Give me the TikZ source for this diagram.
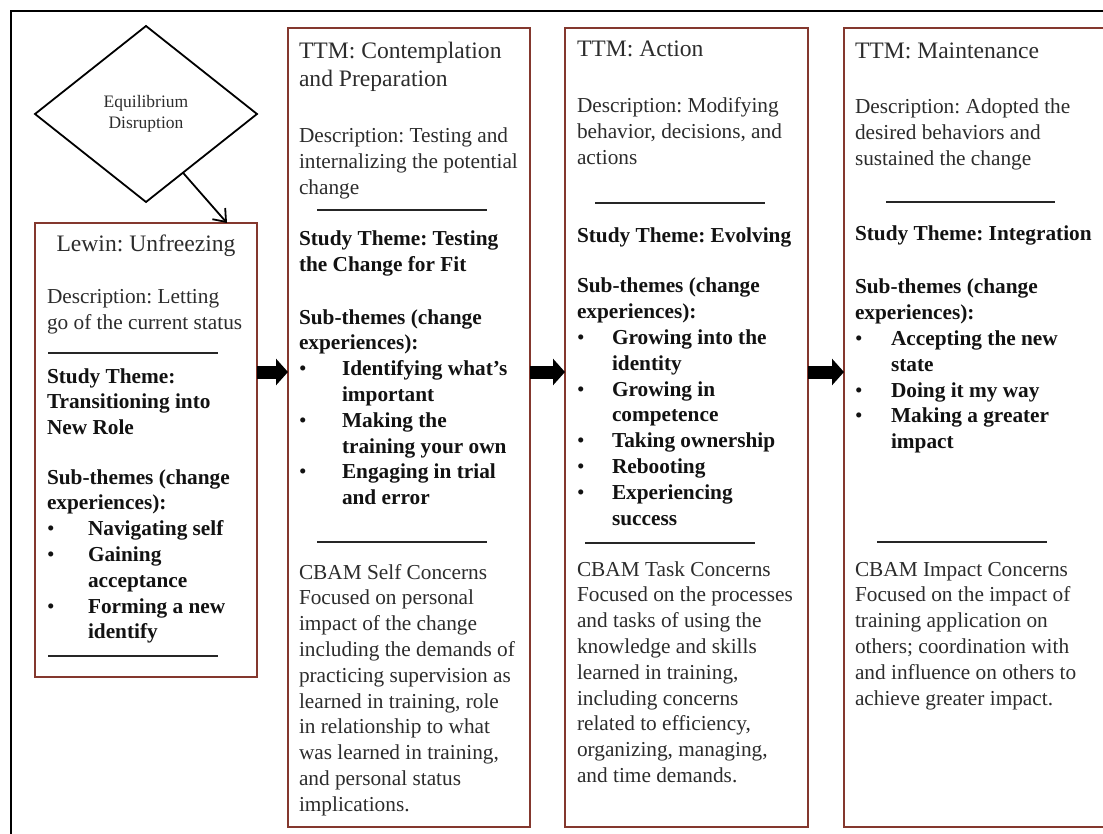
\documentclass[tikz,border=0pt]{standalone}
\usepackage{fontspec}
\setmainfont{Liberation Serif}
\usetikzlibrary{shapes.geometric,arrows.meta,calc}
\frenchspacing

\definecolor{frameline}{RGB}{132,56,46}
\definecolor{bodyink}{RGB}{44,44,44}
\definecolor{boldink}{RGB}{18,18,18}

\newlength{\bulletindent}
\newcommand{\bodysize}{\fontsize{21.3pt}{25.8pt}\selectfont}
\newcommand{\titlesize}{\fontsize{23.6pt}{28pt}\selectfont}
\newcommand{\bitem}{\makebox[\bulletindent][l]{\mdseries •}}
\newcommand{\bcont}{\hspace*{\bulletindent}}
\newcommand{\textblock}[1]{\parbox[t]{262pt}{\raggedright #1}}

\tikzset{
  stagebox/.style={draw=frameline, line width=2.8pt, inner sep=0pt, outer sep=0pt, anchor=north west},
  bodytext/.style={anchor=base west, inner sep=0pt, outer sep=0pt, text=bodyink, font=\bodysize},
  boldtext/.style={bodytext, text=boldink, font=\bodysize\bfseries},
  titletext/.style={anchor=base west, inner sep=0pt, outer sep=0pt, text=bodyink, font=\titlesize},
  separator/.style={line width=1.4pt, draw=black!85},
  blockarrow/.style={line width=13pt, black, -{Triangle[length=12pt,width=26pt]}},
  thinarrow/.style={line width=1.8pt, black, -{Straight Barb[length=11pt,width=17pt,line width=1.8pt]}},
}

\begin{document}
\begin{tikzpicture}[x=1pt,y=-1pt]
\useasboundingbox (0,0) rectangle (1103,834);
\clip (0,0) rectangle (1103,834);

% outer frame (runs past the right and bottom edges)
\draw[line width=1.6pt] (11,900) -- (11,11) -- (1200,11);

% trigger
\node[diamond, draw, line width=1.8pt, minimum width=222pt, minimum height=176pt,
      inner sep=0pt, outer sep=0pt, align=center, text=bodyink,
      font=\fontsize{17.5pt}{21pt}\selectfont] (disrupt) at (146,114) {Equilibrium\\Disruption};

% stage frames
\node[stagebox, minimum width=222pt, minimum height=454pt] (lewin) at (35,223) {};
\node[stagebox, minimum width=242pt, minimum height=799pt] (contemp) at (288,28) {};
\node[stagebox, minimum width=243pt, minimum height=799pt] (action) at (565,28) {};
\node[stagebox, minimum width=290pt, minimum height=799pt] (maint) at (844,28) {};

% ---- Lewin: Unfreezing ----
\node[anchor=base, inner sep=0pt, text=bodyink, font=\titlesize] (lewintitle) at (146,252) {Lewin: Unfreezing};
\node[bodytext] (lewindesc) at (47,304) {\textblock{Description: Letting\\go of the current status}};
\draw[separator] (48,353) -- (218,353);
\node[boldtext] (lewintheme) at (47,383) {\textblock{Study Theme:\\Transitioning into\\New Role}};
\node[boldtext] (lewinsub) at (47,484) {\setlength{\bulletindent}{41pt}\textblock{Sub-themes (change\\experiences):\\
  \bitem Navigating self\\\bitem Gaining\\\bcont acceptance\\\bitem Forming a new\\\bcont identify}};
\draw[separator] (48,656) -- (218,656);

% ---- TTM: Contemplation and Preparation ----
\node[titletext] (contemptitle) at (299,59) {\textblock{TTM: Contemplation\\and Preparation}};
\node[bodytext] (contempdesc) at (299,143) {\textblock{Description: Testing and\\internalizing the potential\\change}};
\draw[separator] (317,210) -- (487,210);
\node[boldtext] (contemptheme) at (299,246) {\textblock{Study Theme: Testing\\the Change for Fit}};
\node[boldtext] (contempsub) at (299,324) {\setlength{\bulletindent}{43pt}\textblock{Sub-themes (change\\experiences):\\
  \bitem Identifying what’s\\\bcont important\\\bitem Making the\\\bcont training your own\\\bitem Engaging in trial\\\bcont and error}};
\draw[separator] (317,542) -- (487,542);
\node[bodytext] (contempcbam) at (299,579) {\textblock{CBAM Self Concerns\\Focused on personal\\impact of the change\\including the demands of\\practicing supervision as\\learned in training, role\\in relationship to what\\was learned in training,\\and personal status\\implications.}};

% ---- TTM: Action ----
\node[titletext] (actiontitle) at (577,57) {TTM: Action};
\node[bodytext] (actiondesc) at (577,113) {\textblock{Description: Modifying\\behavior, decisions, and\\actions}};
\draw[separator] (595,203) -- (765,203);
\node[boldtext] (actiontheme) at (577,243) {\textblock{Study Theme: Evolving}};
\node[boldtext] (actionsub) at (577,293) {\setlength{\bulletindent}{35pt}\textblock{Sub-themes (change\\experiences):\\
  \bitem Growing into the\\\bcont identity\\\bitem Growing in\\\bcont competence\\\bitem Taking ownership\\\bitem Rebooting\\\bitem Experiencing\\\bcont success}};
\draw[separator] (585,543) -- (755,543);
\node[bodytext] (actioncbam) at (577,576) {\textblock{CBAM Task Concerns\\Focused on the processes\\and tasks of using the\\knowledge and skills\\learned in training,\\including concerns\\related to efficiency,\\organizing, managing,\\and time demands.}};

% ---- TTM: Maintenance ----
\node[titletext] (mainttitle) at (855,59) {TTM: Maintenance};
\node[bodytext] (maintdesc) at (855,114) {\textblock{Description: Adopted the\\desired behaviors and\\sustained the change}};
\draw[separator] (886,202) -- (1055,202);
\node[boldtext] (mainttheme) at (855,241) {\textblock{Study Theme: Integration}};
\node[boldtext] (maintsub) at (855,294) {\setlength{\bulletindent}{36pt}\textblock{Sub-themes (change\\experiences):\\
  \bitem Accepting the new\\\bcont state\\\bitem Doing it my way\\\bitem Making a greater\\\bcont impact}};
\draw[separator] (877,542) -- (1047,542);
\node[bodytext] (maintcbam) at (855,576) {\textblock{CBAM Impact Concerns\\Focused on the impact of\\training application on\\others; coordination with\\and influence on others to\\achieve greater impact.}};

% ---- connectors ----
\coordinate (arrowrow) at (0,372);
\coordinate (disruptexit) at ($(disrupt.east)!0.667!(disrupt.south)$);
\coordinate (lewinentry) at ($(lewin.north east)+(-30,0)$);
\draw[thinarrow] (disruptexit) -- (lewinentry);
\draw[blockarrow] (lewin.east |- arrowrow) -- (contemp.west |- arrowrow);
\draw[blockarrow] (contemp.east |- arrowrow) -- (action.west |- arrowrow);
\draw[blockarrow] (action.east |- arrowrow) -- (maint.west |- arrowrow);
\end{tikzpicture}
\end{document}
